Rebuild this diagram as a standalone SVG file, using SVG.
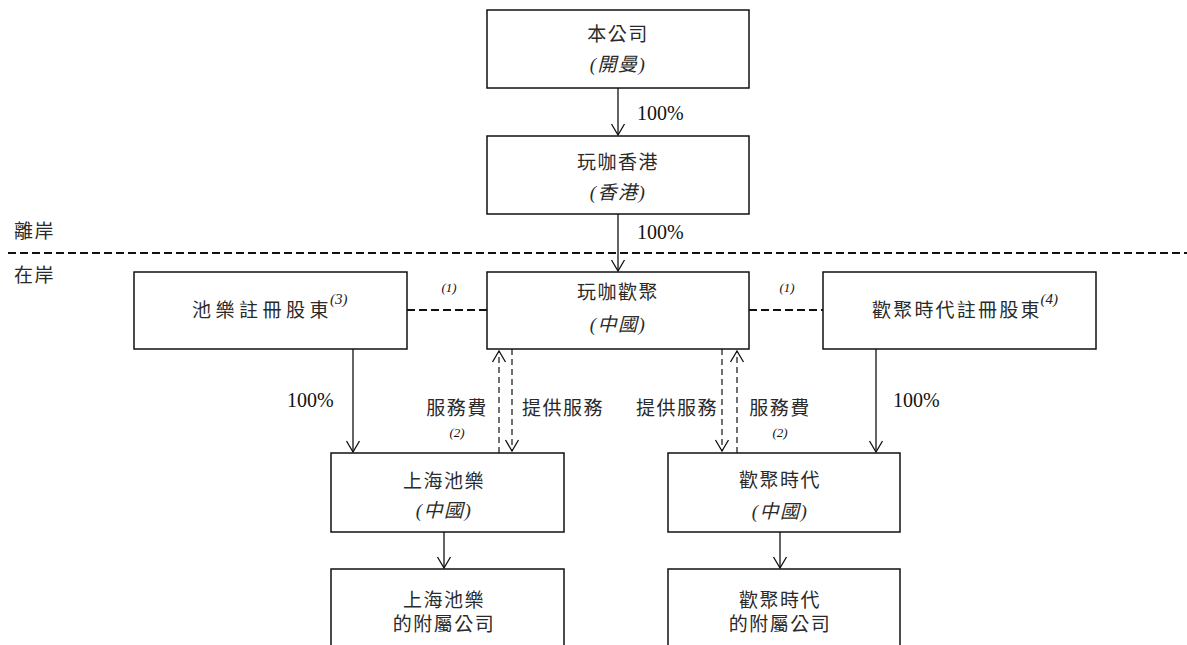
<svg xmlns="http://www.w3.org/2000/svg" width="1187" height="645" viewBox="0 0 1187 645">
<style>
.box{fill:#fff;stroke:#111;stroke-width:1.5}
.t{font-family:"Liberation Serif","Noto Sans CJK TC",serif;font-size:19px;fill:#2a2a2a;letter-spacing:1.5px}
.c{text-anchor:middle}
.i{font-style:italic}
.pct{font-family:"Liberation Serif",serif;font-size:20px;fill:#111}
.note{font-family:"Liberation Serif",serif;font-size:13px;font-style:italic;fill:#111}
.sup{font-family:"Liberation Serif",serif;font-size:15px;font-style:italic;fill:#222;letter-spacing:0}
.solid{stroke:#111;stroke-width:1.3;fill:none}
.dash{stroke:#111;stroke-width:1.2;fill:none;stroke-dasharray:6 4}
.thick{stroke:#111;stroke-width:2.2;fill:none;stroke-dasharray:8 4}
.ah{stroke:#111;stroke-width:1.3;fill:none}
</style>
<rect width="1187" height="645" fill="#fff"/>
<g id="zones">
<line x1="8" y1="253" x2="1187" y2="253" class="thick"/>
<text x="14" y="238" class="t">離岸</text>
<text x="14" y="282" class="t">在岸</text>
</g>
<g id="connectors">
<line x1="618" y1="88" x2="618" y2="135" class="solid"/>
<polyline points="611.5,124 618,135 624.5,124" class="ah"/>
<text x="637" y="120" class="pct">100%</text>
<line x1="618" y1="214" x2="618" y2="271" class="solid"/>
<polyline points="611.5,260 618,271 624.5,260" class="ah"/>
<text x="637" y="239" class="pct">100%</text>
<line x1="407" y1="310" x2="487" y2="310" class="thick"/>
<line x1="749" y1="310" x2="823" y2="310" class="thick"/>
<text x="449" y="292" class="note" text-anchor="middle">(1)</text>
<text x="787" y="292" class="note" text-anchor="middle">(1)</text>
<line x1="353" y1="349" x2="353" y2="452" class="solid"/>
<polyline points="346.5,441 353,452 359.5,441" class="ah"/>
<text x="287" y="407" class="pct">100%</text>
<line x1="876" y1="349" x2="876" y2="452" class="solid"/>
<polyline points="869.5,441 876,452 882.5,441" class="ah"/>
<text x="893" y="407" class="pct">100%</text>
<line x1="499" y1="453" x2="499" y2="351" class="dash"/>
<polyline points="492.5,362 499,351 505.5,362" class="ah"/>
<line x1="512" y1="349" x2="512" y2="451" class="dash"/>
<polyline points="505.5,440 512,451 518.5,440" class="ah"/>
<line x1="722" y1="349" x2="722" y2="451" class="dash"/>
<polyline points="715.5,440 722,451 728.5,440" class="ah"/>
<line x1="737" y1="453" x2="737" y2="351" class="dash"/>
<polyline points="730.5,362 737,351 743.5,362" class="ah"/>
<text x="457" y="415" class="t c">服務費</text>
<text x="457" y="437" class="note" text-anchor="middle">(2)</text>
<text x="522" y="415" class="t">提供服務</text>
<text x="718" y="415" class="t" text-anchor="end">提供服務</text>
<text x="780" y="415" class="t c">服務費</text>
<text x="780" y="437" class="note" text-anchor="middle">(2)</text>
<line x1="444" y1="532" x2="444" y2="568" class="solid"/>
<polyline points="437.5,557 444,568 450.5,557" class="ah"/>
<line x1="780" y1="532" x2="780" y2="568" class="solid"/>
<polyline points="773.5,557 780,568 786.5,557" class="ah"/>
</g>
<g id="company">
<rect x="487" y="10" width="262" height="78" class="box"/>
<text x="618" y="41" class="t c">本公司</text>
<text x="618" y="71" class="t c i">(開曼)</text>
</g>
<g id="wanka-hk">
<rect x="487" y="136" width="262" height="78" class="box"/>
<text x="618" y="169" class="t c">玩咖香港</text>
<text x="618" y="199" class="t c i">(香港)</text>
</g>
<g id="chile-holders">
<rect x="134" y="272" width="273" height="77" class="box"/>
<text x="192" y="317" class="t" style="letter-spacing:4.5px">池樂註冊股東<tspan class="sup" dx="-3" dy="-13">(3)</tspan></text>
</g>
<g id="wanka-huanju">
<rect x="487" y="272" width="262" height="77" class="box"/>
<text x="618" y="299" class="t c">玩咖歡聚</text>
<text x="618" y="331" class="t c i">(中國)</text>
</g>
<g id="huanju-holders">
<rect x="823" y="272" width="273" height="77" class="box"/>
<text x="872" y="317" class="t" style="letter-spacing:2.2px">歡聚時代註冊股東<tspan class="sup" dx="-1" dy="-13">(4)</tspan></text>
</g>
<g id="shanghai-chile">
<rect x="331" y="453" width="233" height="79" class="box"/>
<text x="444" y="488" class="t c">上海池樂</text>
<text x="444" y="517" class="t c i">(中國)</text>
</g>
<g id="huanju-shidai">
<rect x="668" y="453" width="232" height="79" class="box"/>
<text x="780" y="487" class="t c">歡聚時代</text>
<text x="780" y="518" class="t c i">(中國)</text>
</g>
<g id="chile-subs">
<rect x="331" y="569" width="233" height="90" class="box"/>
<text x="444" y="607" class="t c">上海池樂</text>
<text x="444" y="631" class="t c">的附屬公司</text>
</g>
<g id="huanju-subs">
<rect x="668" y="569" width="232" height="90" class="box"/>
<text x="780" y="607" class="t c">歡聚時代</text>
<text x="780" y="631" class="t c">的附屬公司</text>
</g>
</svg>
